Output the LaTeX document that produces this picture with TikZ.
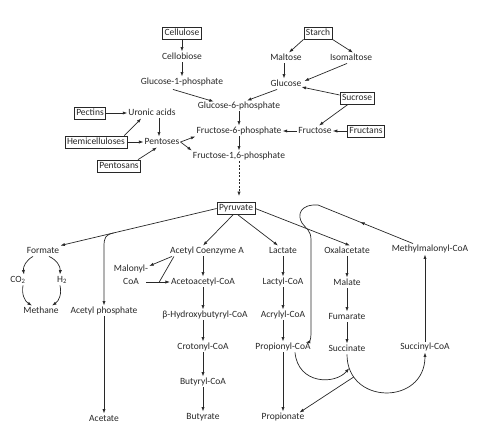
\documentclass[tikz,border=0pt]{standalone}
\usepackage{fontspec}
\setmainfont{Carlito}
\usetikzlibrary{arrows.meta,calc,decorations.markings}
\definecolor{ink}{RGB}{40,40,40}
\begin{document}
\begin{tikzpicture}[x=1pt,y=-1pt,
  every node/.style={font=\fontsize{9.5}{11}\selectfont, text=ink, inner sep=1pt},
  txt/.style={text height=6.5pt, text depth=2pt},
  box/.style={txt, draw=ink, line width=0.7pt, inner xsep=2pt, inner ysep=1.8pt},
  arr/.style={draw=ink, line width=0.7pt, -{Latex[length=4.5pt,width=3.2pt]}},
  ln/.style={draw=ink, line width=0.7pt},
  dsh/.style={arr, dash pattern=on 2pt off 1.5pt},
  midarr/.style={postaction={decorate}, decoration={markings, mark=at position #1 with {\arrow{Latex[length=4.5pt,width=3.2pt]}}}}
]
\useasboundingbox (0,0) rectangle (480,433);
% ---- top ----
\node[box] (cellulose) at (182,33) {Cellulose};
\node[txt] (cellobiose) at (182,57) {Cellobiose};
\node[txt] (g1p) at (182,82) {Glucose-1-phosphate};
\node[txt] (g6p) at (239,106) {Glucose-6-phosphate};
\node[txt] (f6p) at (239,131) {Fructose-6-phosphate};
\node[txt] (f16p) at (239,156) {Fructose-1,6-phosphate};
\node[box] (starch) at (318,33) {Starch};
\node[txt] (maltose) at (286,58) {Maltose};
\node[txt] (isomaltose) at (351,58) {Isomaltose};
\node[txt] (glucose) at (286,84) {Glucose};
\node[box] (sucrose) at (357,98) {Sucrose};
\node[txt] (fructose) at (315,131) {Fructose};
\node[box] (fructans) at (366,131) {Fructans};
\node[box] (pectins) at (90,113) {Pectins};
\node[txt] (uronic) at (152,113) {Uronic acids};
\node[box] (hemi) at (96,142) {Hemicelluloses};
\node[txt] (pentoses) at (162,142) {Pentoses};
\node[box] (pentosans) at (119,166) {Pentosans};
\node[box] (pyruvate) at (236,208.5) {Pyruvate};
% ---- bottom ----
\node[txt] (formate) at (43,251) {Formate};
\node[txt] (co2) at (18,280) {CO\textsubscript{2}};
\node[txt] (h2) at (62,280) {H\textsubscript{2}};
\node[txt] (methane) at (41,311) {Methane};
\node[txt] (acp) at (104,311) {Acetyl phosphate};
\node[txt] (acetate) at (104,419) {Acetate};
\node[txt] (acoa) at (207,251) {Acetyl Coenzyme A};
\node[align=center, font=\fontsize{9.5}{13}\selectfont] (malonyl) at (131,275) {Malonyl-\\CoA};
\node[txt] (acac) at (203,282) {Acetoacetyl-CoA};
\node[txt] (hb) at (205,315) {β-Hydroxybutyryl-CoA};
\node[txt] (crot) at (203,347) {Crotonyl-CoA};
\node[txt] (butcoa) at (203,382) {Butyryl-CoA};
\node[txt] (butyrate) at (203,417) {Butyrate};
\node[txt] (lactate) at (283,251) {Lactate};
\node[txt] (lactyl) at (283,282) {Lactyl-CoA};
\node[txt] (acryl) at (283,315) {Acrylyl-CoA};
\node[txt] (propcoa) at (283,347) {Propionyl-CoA};
\node[txt] (propionate) at (283,417) {Propionate};
\node[txt] (oxal) at (347,251) {Oxalacetate};
\node[txt] (malate) at (347,283) {Malate};
\node[txt] (fumarate) at (347,317) {Fumarate};
\node[txt] (succinate) at (347,349) {Succinate};
\node[txt] (mmcoa) at (430,249) {Methylmalonyl-CoA};
\node[txt] (succoa) at (425,347) {Succinyl-CoA};
% ---- connectors top ----
\draw[arr] (cellulose) -- (cellobiose);
\draw[arr] (cellobiose) -- (g1p);
\draw[arr] ($(g1p.south)+(-9,2)$) -- ($(g6p.north west)+(17,1)$);
\draw[arr] (starch.south west) -- ($(maltose.north)+(3,0)$);
\draw[arr] (starch.south east) -- ($(isomaltose.north)+(2,0)$);
\draw[arr] ($(maltose.south)+(-2,0)$) -- ($(glucose.north)+(-2,0)$);
\draw[arr] ($(isomaltose.south)+(-4,0)$) -- ($(glucose.east)+(2,-3)$);
\draw[arr] ($(sucrose.west)+(0,-3)$) -- ($(glucose.east)+(-1,3)$);
\draw[arr] ($(glucose.south)+(-9,0)$) -- ($(g6p.north)+(8,0)$);
\draw[arr] ($(sucrose.south)+(-9,0)$) -- ($(fructose.north)+(4,0)$);
\draw[arr] (fructans.west) -- (fructose.east);
\draw[arr] (fructose.west) -- (f6p.east);
\draw[arr] (g6p.south) -- (f6p.north);
\draw[arr] (f6p.south) -- (f16p.north);
\draw[dsh] (f16p.south) -- ($(pyruvate.north)+(3,-6)$);
\draw[arr] (pectins.east) -- (uronic.west);
\draw[arr] ($(hemi.north east)+(-3,0)$) -- ($(uronic.south west)+(14,0)$);
\draw[arr] ($(uronic.south)+(7,0)$) -- ($(pentoses.north)+(-3,0)$);
\draw[arr] (hemi.east) -- (pentoses.west);
\draw[arr] ($(pentosans.north east)+(-3,0)$) -- ($(pentoses.south)+(-5,0)$);
\draw[arr] (pentoses.east) -- (f6p.south west);
\draw[arr] (pentoses.east) -- (f16p.north west);
% ---- connectors from pyruvate ----
\draw[arr] (pyruvate.west) -- coordinate[pos=0.66] (br) (formate.north east);
\draw[arr] (br) .. controls ($(br)+(-8,2)$) and ($(acp.north |- br)+(0,4)$) .. ($(acp.north |- br)+(0,14)$) -- (acp.north);
\draw[arr] (acp) -- (acetate);
\draw[arr] ($(formate.south)+(-10,0)$) to[bend right=35] ($(co2.north)+(6,0)$);
\draw[arr] ($(formate.south)+(6,0)$) to[bend left=35] ($(h2.north)+(-2,0)$);
\draw[arr] ($(co2.south)+(5,0)$) to[bend right=35] ($(methane.north)+(-9,0)$);
\draw[arr] ($(h2.south)+(-2,0)$) to[bend left=35] ($(methane.north)+(11,0)$);
\draw[arr] ($(pyruvate.south)+(-3,0)$) -- ($(acoa.north)+(-4,0)$);
\draw[arr] ($(pyruvate.south)+(2,0)$) -- ($(lactate.north)+(-5,0)$);
\draw[arr] (pyruvate.east) -- ($(oxal.north)+(3,0)$);
% butyrate branch
\draw[arr] ($(acoa.south west)+(3,0)$) -- ($(malonyl.north east)+(0,2)$);
\draw[arr] ($(malonyl.east |- acac.west)+(-3,0)$) -- coordinate[pos=0.55] (jn) (acac.west);
\draw[ln] ($(acoa.south west)+(5,0)$) -- (jn);
\draw[arr] ($(acoa.south)+(-4,0)$) -- (acac.north);
\draw[arr] (acac.south) -- ($(hb.north)+(-2,0)$);
\draw[arr] ($(hb.south)+(-2,0)$) -- (crot.north);
\draw[arr] (crot) -- (butcoa);
\draw[arr] (butcoa) -- (butyrate);
% propionate branch
\draw[arr] (lactate) -- (lactyl);
\draw[arr] (lactyl) -- (acryl);
\draw[arr] (acryl) -- (propcoa);
\draw[arr] (propcoa) -- (propionate);
\draw[arr] (oxal) -- (malate);
\draw[arr] (malate) -- (fumarate);
\draw[arr] (fumarate) -- (succinate);
\draw[arr] (succoa.north) -- (succoa.north |- mmcoa.south);
\draw[arr] (succinate.south) .. controls ($(succinate.south)+(0,51)$) and ($(succoa.south)+(0,53)$) .. coordinate[pos=0.1] (cp) coordinate[pos=0.18] (sp) (succoa.south);
\draw[arr] ($(propcoa.south)+(12,0)$) .. controls ($(propcoa.south)+(15,32)$) and (335,385) .. (cp);
\draw[arr] (sp) -- ($(propionate.north east)+(-6,1)$);
\draw[arr, midarr=0.22] ($(mmcoa.north)+(-17,0)$) -- (318,205)
   .. controls (300,204) and (297,215) .. (302,223)
   .. controls (306,229) and (311,230) .. (311,240)
   -- (311,334) .. controls (311,340) and (309,342) .. ($(propcoa.north east)+(-6,1)$);
\end{tikzpicture}
\end{document}
